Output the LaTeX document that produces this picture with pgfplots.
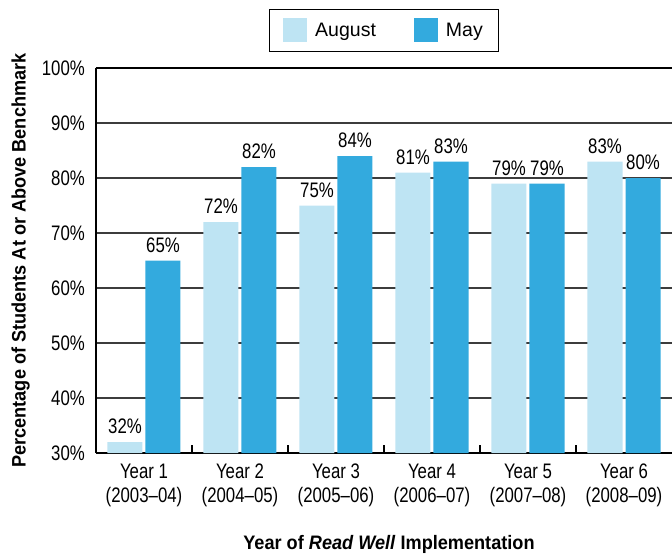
\documentclass[border=0pt]{standalone}
\usepackage{fontspec}
\setmainfont{Liberation Sans}[FakeStretch=0.8]
\newfontfamily\labfont{Liberation Sans}[FakeStretch=0.93]
\newfontfamily\legfont{Liberation Sans}
\usepackage{pgfplots}
\pgfplotsset{compat=1.18}
\definecolor{aug}{RGB}{190,228,243}
\definecolor{may}{RGB}{51,170,222}
\definecolor{gridc}{RGB}{60,60,60}
\begin{document}
\begin{tikzpicture}
\begin{axis}[
  scale only axis,
  width=576pt, height=385pt,
  ybar=3pt, bar width=35pt,
  xmin=-0.5, xmax=5.5, ymin=30, ymax=100,
  axis x line*=bottom, axis y line*=left,
  axis line style={line width=2.6pt, black},
  xtick={0,1,2,3,4,5},
  xticklabels={{Year 1\\(2003--04)},{Year 2\\(2004--05)},{Year 3\\(2005--06)},{Year 4\\(2006--07)},{Year 5\\(2007--08)},{Year 6\\(2008--09)}},
  xticklabel style={align=center, font=\fontsize{21}{23.5}\selectfont, inner sep=6pt, yshift=-5pt},
  minor xtick={0.5,1.5,2.5,3.5,4.5},
  major tick length=0pt, minor tick length=8pt, tick align=inside,
  minor tick style={line width=1.5pt, black},
  ytick={30,40,50,60,70,80,90,100},
  yticklabel={\pgfmathprintnumber{\tick}\%},
  yticklabel style={font=\fontsize{21}{24}\selectfont, inner sep=5pt, xshift=-6pt},
  /pgf/number format/assume math mode=true,
  ymajorgrids, grid style={line width=1.3pt, gridc},
  extra y ticks={100}, extra y tick labels={},
  extra y tick style={grid style={line width=2.6pt, black}},
  ylabel={\textbf{Percentage of Students At or Above Benchmark}},
  ylabel style={font=\labfont\fontsize{19.5}{22}\selectfont, at={([xshift=-66pt]axis description cs:0,0.5)}, anchor=south, rotate=0, inner sep=0pt},
  xlabel={\textbf{Year of \textit{Read Well} Implementation}},
  xlabel style={font=\labfont\fontsize{19.5}{22}\selectfont, at={([yshift=-96pt,xshift=5pt]axis description cs:0.5,0)}, anchor=base, inner sep=0pt},
  nodes near coords={\pgfmathprintnumber[assume math mode=true]{\pgfplotspointmeta}\%},
  every node near coord/.append style={font=\fontsize{21}{24}\selectfont, black, inner sep=8pt},
  legend columns=2,
  legend style={at={(0.5,1.0416)}, anchor=south, draw=black, line width=1.3pt,
    font=\legfont\fontsize{19.5}{23}\selectfont, inner xsep=14pt, inner ysep=9pt,
    /tikz/every odd column/.append style={column sep=6pt},
    /tikz/every even column/.append style={column sep=36pt}},
  legend image code/.code={\fill[#1] (0pt,-12pt) rectangle (24pt,12pt);},
]
\addplot[draw=none, fill=aug] coordinates {(0,32) (1,72) (2,75) (3,81) (4,79) (5,83)};
\addplot[draw=none, fill=may] coordinates {(0,65) (1,82) (2,84) (3,83) (4,79) (5,80)};
\legend{August, May}
\end{axis}
\pgfresetboundingbox
\path[use as bounding box] ([shift={(-96pt,-101pt)}]current axis.south west) rectangle ++(672pt,554pt);
\end{tikzpicture}
\end{document}
